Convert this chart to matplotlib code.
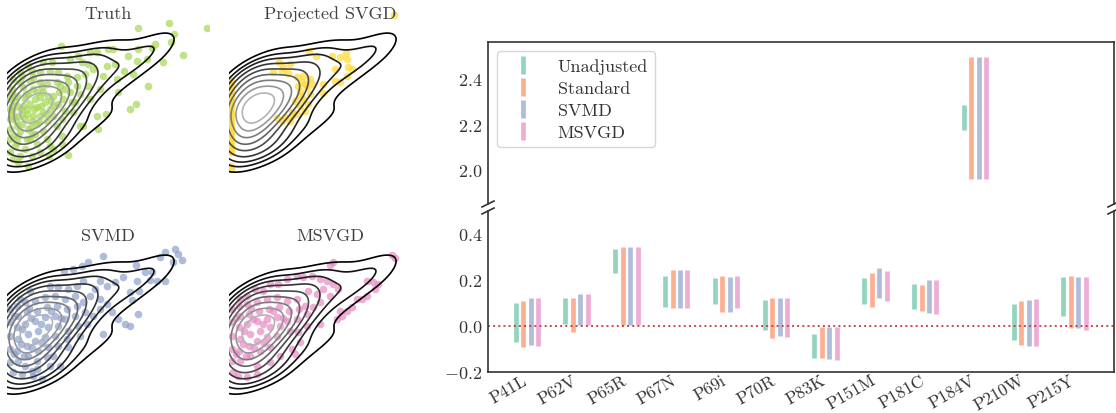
import numpy as np
import matplotlib
matplotlib.use('Agg')
import matplotlib.pyplot as plt
from matplotlib.colors import LinearSegmentedColormap
from matplotlib.lines import Line2D
import seaborn as sns

plt.rcParams['font.family'] = 'serif'
plt.rcParams['font.serif'] = ['cmr10']
plt.rcParams['mathtext.fontset'] = 'cm'
plt.rcParams['axes.formatter.use_mathtext'] = True
plt.rcParams['font.size'] = 13
plt.rcParams['text.color'] = '.2'
plt.rcParams['axes.labelcolor'] = '.2'
plt.rcParams['xtick.color'] = '.2'
plt.rcParams['ytick.color'] = '.2'

# ---- left panels: samples (x, y) ----
truth_pts = [
    (5.93, 2.12), (4.81, 2.28), (4.95, 1.95), (3.88, 2.12), (4.85, 1.72), (5.23, 1.32),
    (4.63, 1.10), (4.38, 1.65), (4.28, 1.52), (4.16, 0.38), (3.81, -0.16), (3.63, -0.30),
    (4.13, 1.20), (3.88, 1.50), (3.83, 1.15), (3.73, 0.75), (3.58, 1.30), (3.46, 0.85),
    (3.23, 0.60), (3.28, 0.20), (3.13, 1.50), (2.98, 1.50), (3.18, 1.05), (2.93, 1.00),
    (2.83, 0.70), (2.63, 1.40), (2.43, 1.40), (2.73, 0.30), (2.63, -0.50), (2.91, -0.45),
    (2.66, -0.90), (2.23, -0.80), (1.55, 1.60), (1.28, 1.12), (1.03, 1.12), (0.56, 1.02),
    (0.33, 0.80), (0.13, 0.60), (1.78, -1.67), (1.19, -1.70), (1.33, -1.50), (0.56, -2.00),
    (0.28, -1.88), (0.03, -1.60), (1.58, -1.10), (2.13, -0.80), (1.93, -0.40), (2.08, 1.30),
    (1.83, 1.20), (2.18, 1.10), (2.38, 1.05), (2.53, 0.90), (2.28, 0.75), (2.03, 0.65),
    (1.73, 0.70), (1.48, 0.80), (1.23, 0.85), (0.93, 0.80), (0.73, 0.65), (2.38, 0.40),
    (2.13, 0.15), (2.43, 0.00), (1.98, -0.10), (1.68, 0.30), (1.43, 0.50), (1.13, 0.45),
    (0.03, 0.00), (0.03, -0.30), (0.03, -0.60), (0.03, -0.90), (0.03, -1.20), (0.08, 0.30),
    (0.23, 0.10), (0.23, -0.20), (0.28, -0.50), (0.23, -0.80), (0.28, -1.10), (0.18, -1.40),
    (0.43, 0.35), (0.48, 0.00), (0.53, -0.30), (0.48, -0.60), (0.58, -0.90), (0.53, -1.20),
    (0.48, -1.50), (0.73, 0.30), (0.78, 0.00), (0.83, -0.25), (0.73, -0.50), (0.83, -0.75),
    (0.78, -1.05), (0.83, -1.35), (1.03, 0.20), (1.08, -0.10), (1.03, -0.40), (1.13, -0.65),
    (1.03, -0.95), (1.13, -1.20), (1.33, 0.10), (1.38, -0.20), (1.33, -0.50), (1.43, -0.80),
    (1.63, 0.00), (1.68, -0.35), (1.58, -0.60), (1.83, 0.20), (1.88, -0.10), (1.78, 0.50),
    (2.03, 0.40), (1.53, 0.40), (0.93, 0.50), (0.63, 0.55), (0.33, 0.50), (0.38, 0.70),
    (0.68, 0.85), (1.58, -1.35), (1.23, -1.40), (0.93, -1.60), (0.68, -1.70), (0.33, -1.70),
    (0.13, -1.80), (0.18, -0.05), (0.38, -0.45), (0.63, -0.15), (0.68, -0.65), (0.93, -0.50),
    (0.33, -0.95), (0.13, -0.50), (0.13, -1.10), (0.63, -1.20), (1.23, -0.30), (1.18, 0.10),
    (0.58, 0.15), (0.08, -0.20), (0.43, -0.20), (0.93, 0.05), (1.48, -0.15),
    (0.10, -0.35), (0.35, -0.30), (0.55, -0.45), (0.75, -0.30), (0.95, -0.20), (0.40, -0.75),
    (0.65, -0.85), (0.90, -0.70), (0.20, -0.65), (1.10, -0.45), (0.50, 0.15), (0.85, 0.20),
    (0.25, -1.30), (0.70, -1.05), (1.25, -0.05), (1.50, 0.20), (1.00, 0.35), (0.10, 0.15),
]

# projected SVGD: particles stuck on the boundary x = 0, plus the free ones
psvgd_edge_y = [0.55, 0.45, 0.35, 0.25, 0.15, 0.05, -0.05, -0.15, -0.25, -0.35, -0.45,
                -0.55, -0.65, -0.75, -0.85, -0.95, -1.05, -1.15, -1.25, -1.35, -1.45,
                -1.55, -1.60, -2.00, -2.10]
psvgd_pts = [
    (4.89, 2.52), (2.35, 1.45), (2.55, 1.30), (3.02, 1.28), (3.27, 1.25), (3.45, 1.38),
    (3.47, 1.20), (3.12, 0.90), (3.52, 0.95), (3.62, 0.90), (3.47, 0.68), (3.12, 0.55),
    (3.27, 0.50), (2.77, 0.45), (2.77, 0.17), (1.45, 1.12), (1.57, 0.95), (1.77, 1.05),
    (1.27, 0.80), (1.52, 0.85), (1.72, 0.78), (1.97, 0.65), (2.17, 0.70), (2.37, 0.60),
    (2.12, 0.50), (2.27, 0.35), (2.07, 0.25), (2.37, 0.15), (2.17, 0.00), (2.32, -0.15),
    (2.07, -0.20), (2.22, -0.35), (1.97, -0.45), (1.82, -0.50), (1.62, -0.55), (1.37, -0.58),
    (1.52, -0.65), (1.77, -0.65), (1.82, -0.40), (2.07, 0.10), (1.92, -0.05), (2.22, 0.45),
    (2.42, 0.45), (2.02, 0.40),
]

svmd_pts = [
    (4.68, 2.08), (4.98, 2.16), (5.18, 1.84), (4.93, 1.78), (5.08, 2.01), (4.53, 1.91),
    (3.81, 1.68), (4.08, 1.46), (4.28, 1.48), (4.43, 1.21), (4.68, 1.21), (4.23, 1.24),
    (3.83, 1.21), (3.91, 0.91), (3.63, 0.86), (3.68, 0.64), (3.88, 0.21), (3.63, -0.14),
    (3.48, -0.09), (3.28, 0.06), (3.08, 0.26), (2.83, 1.96), (2.38, 1.78), (2.18, 1.66),
    (1.93, 1.56), (1.65, 1.51), (3.43, 1.31), (3.18, 1.16), (2.93, 1.06), (2.73, 1.21),
    (2.58, 0.96), (2.23, 1.21), (2.03, 1.06), (1.78, 0.96), (1.48, 1.01), (1.23, 1.06),
    (0.63, 0.91), (0.33, 0.66), (2.43, 0.76), (2.73, 0.66), (2.93, 0.51), (2.73, 0.36),
    (2.53, 0.16), (2.33, -0.09), (2.83, -0.39), (2.13, -0.44), (1.78, -0.79), (1.53, -1.34),
    (0.98, -1.74), (0.73, -1.64), (0.83, -1.44),
    (0.03, 0.36), (0.03, -0.04), (0.03, -0.44), (0.03, -0.84), (0.03, -1.24), (0.23, 0.46),
    (0.28, 0.16), (0.23, -0.19), (0.28, -0.54), (0.23, -0.89), (0.28, -1.19), (0.48, 0.56),
    (0.53, 0.26), (0.48, -0.09), (0.58, -0.39), (0.53, -0.74), (0.58, -1.04), (0.48, -1.34),
    (0.78, 0.61), (0.83, 0.31), (0.78, 0.01), (0.88, -0.29), (0.78, -0.59), (0.88, -0.89),
    (0.83, -1.19), (1.08, 0.71), (1.13, 0.41), (1.08, 0.11), (1.18, -0.19), (1.08, -0.49),
    (1.18, -0.79), (1.13, -1.09), (1.38, 0.76), (1.43, 0.46), (1.38, 0.16), (1.48, -0.14),
    (1.38, -0.44), (1.48, -0.74), (1.68, 0.66), (1.73, 0.36), (1.68, 0.06), (1.78, -0.29),
    (1.73, -0.54), (1.98, 0.76), (2.03, 0.46), (1.98, 0.16), (2.08, -0.14), (2.23, 0.56),
    (2.28, 0.26), (0.13, -1.54), (0.38, -1.59), (0.68, -1.49), (1.23, -1.34), (1.33, -1.04),
    (0.15, 0.15), (0.40, -0.25), (0.65, 0.10), (0.95, -0.10), (0.35, -0.70), (0.70, -0.80),
    (1.00, -0.65), (0.15, -1.00), (0.45, -1.05), (1.25, 0.30), (1.55, 0.10), (0.60, 0.40),
]

msvgd_pts = [
    (4.82, 1.98), (4.92, 1.88), (3.07, 1.76), (2.97, 1.68), (4.07, 1.21), (4.27, 1.18),
    (4.42, 1.11), (4.32, 0.96), (4.07, 0.76), (3.92, 0.66), (3.77, 0.66), (3.62, 0.41),
    (3.47, 0.31), (3.32, 0.16), (3.17, 0.06), (3.27, 0.31), (3.07, 1.11), (3.22, 0.96),
    (2.87, 1.21), (2.67, 1.26), (2.42, 1.36), (2.17, 1.31), (1.97, 1.36), (1.67, 1.26),
    (1.42, 1.11), (1.17, 1.11), (0.97, 0.91), (0.72, 0.96), (0.47, 0.76), (0.27, 0.66),
    (2.97, 0.76), (2.77, 0.96), (2.57, 0.81), (2.32, 0.91), (2.67, 0.56), (2.47, 0.41),
    (2.27, -0.14), (2.67, -0.09), (2.02, -0.34), (2.07, -0.64), (1.82, -0.84), (1.92, -0.99),
    (1.47, -1.04), (1.17, -1.24), (0.77, -1.34), (0.77, -1.59), (0.47, -1.69), (0.22, -1.64),
    (0.07, -1.54),
    (0.03, 0.36), (0.03, -0.04), (0.03, -0.44), (0.03, -0.84), (0.03, -1.19), (0.23, 0.46),
    (0.28, 0.16), (0.23, -0.19), (0.28, -0.54), (0.23, -0.89), (0.28, -1.19), (0.48, 0.51),
    (0.53, 0.21), (0.48, -0.09), (0.58, -0.39), (0.53, -0.74), (0.58, -1.04), (0.78, 0.56),
    (0.83, 0.31), (0.78, 0.01), (0.88, -0.29), (0.78, -0.59), (0.88, -0.89), (1.08, 0.66),
    (1.13, 0.36), (1.08, 0.06), (1.18, -0.19), (1.08, -0.49), (1.18, -0.79), (1.38, 0.71),
    (1.43, 0.41), (1.38, 0.11), (1.48, -0.14), (1.38, -0.44), (1.68, 0.61), (1.73, 0.31),
    (1.68, 0.01), (1.78, -0.29), (1.98, 0.66), (2.03, 0.36), (1.98, 0.06), (2.23, 0.46),
    (2.28, 0.21),
    (0.15, 0.10), (0.40, -0.30), (0.65, 0.05), (0.95, -0.10), (0.35, -0.70), (0.70, -0.80),
    (1.00, -0.65), (0.15, -1.00), (0.45, -1.05), (1.25, 0.30), (1.55, 0.10), (0.60, 0.40),
]

# ---- right panel: confidence intervals per mutation ----
mutations = ['P41L', 'P62V', 'P65R', 'P67N', 'P69i', 'P70R', 'P83K', 'P151M',
             'P181C', 'P184V', 'P210W', 'P215Y']
methods = ['Unadjusted', 'Standard', 'SVMD', 'MSVGD']
unadj_lo = [-0.070, 0.009, 0.229, 0.084, 0.097, -0.018, -0.141, 0.097, 0.076, 2.175, -0.063, 0.042]
unadj_hi = [0.098, 0.123, 0.336, 0.218, 0.208, 0.113, -0.035, 0.208, 0.183, 2.282, 0.094, 0.214]
std_lo = [-0.091, -0.025, 0.003, 0.078, 0.062, -0.053, -0.138, 0.084, 0.066, 1.959, -0.081, -0.009]
std_hi = [0.110, 0.122, 0.344, 0.242, 0.218, 0.122, -0.003, 0.231, 0.179, 2.496, 0.108, 0.218]
svmd_lo = [-0.084, 0.003, 0.003, 0.078, 0.063, -0.045, -0.145, 0.120, 0.057, 1.959, -0.085, -0.009]
svmd_hi = [0.122, 0.138, 0.344, 0.245, 0.214, 0.120, -0.003, 0.251, 0.199, 2.496, 0.113, 0.212]
msvgd_lo = [-0.088, 0.003, 0.003, 0.078, 0.078, -0.047, -0.148, 0.110, 0.054, 1.959, -0.085, -0.018]
msvgd_hi = [0.122, 0.138, 0.344, 0.245, 0.218, 0.122, -0.003, 0.237, 0.202, 2.496, 0.117, 0.212]

set2 = sns.color_palette('Set2')
ci_colors = [set2[0], set2[1], set2[2], set2[3]]

W, H = 1116, 414
fig = plt.figure(figsize=(W / 100, H / 100), dpi=100)

def px_axes(left, top, right, bottom):
    return fig.add_axes([left / W, 1 - bottom / H, (right - left) / W, (bottom - top) / H])

tx = np.array([p[0] for p in truth_pts])
ty = np.array([p[1] for p in truth_pts])
grey_map = LinearSegmentedColormap.from_list('kde', ['black', '#d0d0d0'])

panels = [
    ('Truth', truth_pts, set2[4], (7, 8)),
    ('Projected SVGD', psvgd_pts + [(0.0, v) for v in psvgd_edge_y], set2[5], (229, 8)),
    ('SVMD', svmd_pts, set2[2], (7, 230)),
    ('MSVGD', msvgd_pts, set2[3], (229, 230)),
]
for name, pts, col, (l, t) in panels:
    ax = px_axes(l, t, l + 202, t + 174)
    px = [p[0] for p in pts]
    py = [p[1] for p in pts]
    ax.scatter(px, py, s=30, color=col, alpha=0.7, linewidths=0, zorder=1)
    sns.kdeplot(x=tx, y=ty, ax=ax, levels=10, thresh=0.15, bw_adjust=1.05,
                cmap=grey_map, linewidths=1.2, zorder=2)
    ax.set_xlim(-0.06, 6.0)
    ax.set_ylim(-2.46, 2.76)
    ax.axis('off')
    ax.text(0.5, 0.937, name, transform=ax.transAxes, ha='center', va='baseline',
            fontsize=13, color='.25')

# broken axis on the right
ax_top = px_axes(488, 43, 1114, 205)
ax_bot = px_axes(488, 212, 1114, 373)

x = np.arange(len(mutations))
offsets = [-0.225, -0.075, 0.075, 0.225]
bounds = [(unadj_lo, unadj_hi), (std_lo, std_hi), (svmd_lo, svmd_hi), (msvgd_lo, msvgd_hi)]
for ax in (ax_top, ax_bot):
    for (lo, hi), off, col in zip(bounds, offsets, ci_colors):
        ax.vlines(x + off, lo, hi, colors=[col], linewidth=3.4, alpha=0.7)
    ax.set_xlim(-0.78, 11.79)
    for s in ax.spines.values():
        s.set_color('.2')
        s.set_linewidth(1.2)
    ax.tick_params(length=0, pad=4, labelsize=13)

ax_bot.axhline(0, color='#c0392b', ls=':', lw=1.4, alpha=0.9)
ax_top.set_ylim(1.85, 2.56)
ax_bot.set_ylim(-0.2, 0.5)
ax_top.set_yticks([2.0, 2.2, 2.4])
ax_bot.set_yticks([-0.2, 0.0, 0.2, 0.4])
ax_top.spines['bottom'].set_visible(False)
ax_bot.spines['top'].set_visible(False)
ax_top.set_xticks([])
ax_bot.set_xticks(x + 0.05)
ax_bot.set_xticklabels(mutations, rotation=30, ha='right', fontsize=12.5)
ax_bot.tick_params(axis='x', pad=0)

# break marks
dx, dy = 0.0096, 0.0185
kw = dict(color='.2', lw=1.2, clip_on=False)
for xe in (0, 1):
    ax_top.plot([xe - dx, xe + dx], [-dy, dy], transform=ax_top.transAxes, **kw)
    ax_bot.plot([xe - dx, xe + dx], [1 - dy, 1 + dy], transform=ax_bot.transAxes, **kw)

handles = [Line2D([], [], color=c, alpha=0.7, marker='|', ls='none', markersize=13,
                  markeredgewidth=3.4) for c in ci_colors]
ax_top.legend(handles, methods, loc='upper left', fontsize=13, handlelength=2.1,
              handletextpad=0.85, borderaxespad=0.5, labelspacing=0.35)

fig.savefig('out.png', dpi=100)
